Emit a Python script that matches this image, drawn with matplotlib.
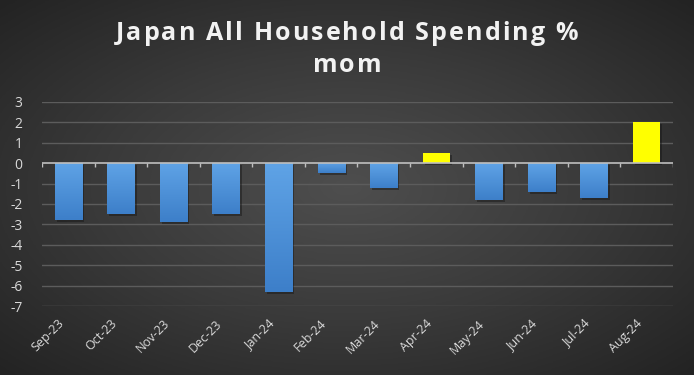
import numpy as np
import matplotlib
matplotlib.use("Agg")
import matplotlib.pyplot as plt
from matplotlib import transforms
from matplotlib.colors import LinearSegmentedColormap

categories = ["Sep-23", "Oct-23", "Nov-23", "Dec-23", "Jan-24", "Feb-24",
              "Mar-24", "Apr-24", "May-24", "Jun-24", "Jul-24", "Aug-24"]
values = [-2.8, -2.5, -2.9, -2.5, -6.3, -0.5, -1.2, 0.5, -1.8, -1.4, -1.7, 2.0]
yticks = [3, 2, 1, 0, -1, -2, -3, -4, -5, -6, -7]
title_lines = ["Japan All Household Spending %", "mom"]

plt.rcParams['font.family'] = ['Open Sans', 'DejaVu Sans']

W, H = 694, 375
fig = plt.figure(figsize=(W / 100, H / 100), dpi=100)

# radial background
bg = fig.add_axes([0, 0, 1, 1], zorder=-10)
yy, xx = np.mgrid[0:1:300j, 0:1:600j]
r = np.sqrt(((xx - 0.5) / 0.75) ** 2 + ((yy - 0.5) / 0.75) ** 2)
r = np.clip(r / 0.95, 0, 1)
bgcmap = LinearSegmentedColormap.from_list("bg", ["#4e4e4e", "#3a3a3a", "#232323"])
bg.imshow(r, cmap=bgcmap, aspect='auto', extent=[0, 1, 0, 1], origin='lower')
bg.axis('off')

ax = fig.add_axes([42 / W, 1 - 306 / H, (673 - 42) / W, (306 - 102) / H])
ax.patch.set_alpha(0)
n = len(categories)
x = np.arange(n)

for yv in yticks:
    if yv != 0:
        ax.axhline(yv, color="#5c5c5c", lw=1.0, zorder=1)

width = 0.52
bluecmap = LinearSegmentedColormap.from_list("bl", ["#3d7fc9", "#5fa3e6"])
shadow_tr = transforms.offset_copy(ax.transData, fig=fig, x=2, y=-2, units='dots')
for xi, v in zip(x, values):
    ax.bar(xi, v, width, color="#151515", alpha=0.45, transform=shadow_tr, zorder=2)
    if v >= 0:
        ax.bar(xi, v, width, color="#ffff00", zorder=3)
    else:
        b = ax.bar(xi, v, width, color="none", zorder=3)[0]
        grad = np.linspace(0, 1, 100).reshape(-1, 1)
        im = ax.imshow(grad, cmap=bluecmap, aspect='auto', origin='lower',
                       extent=[xi - width / 2, xi + width / 2, v, 0], zorder=3)
        im.set_clip_path(b)

ax.set_xlim(-0.5, n - 0.5)
ax.set_ylim(-7, 3)

# zero axis with tick marks
ax.axhline(0, color="#bfbfbf", lw=1.2, zorder=4)
ax.vlines(np.arange(n + 1) - 0.5, -0.18, 0, color="#bfbfbf", lw=1.0, zorder=4)

for s in ax.spines.values():
    s.set_visible(False)
ax.set_yticks(yticks)
ax.set_yticklabels([str(t) for t in yticks], color="#d9d9d9", fontsize=10)
ax.tick_params(axis='y', length=0, pad=14)
ax.set_xticks(x)
ax.set_xticklabels(categories, rotation=45, ha='right', rotation_mode='anchor',
                   color="#d9d9d9", fontsize=9)
ax.tick_params(axis='x', length=0, pad=8)
for lbl in ax.get_xticklabels():
    lbl.set_transform(lbl.get_transform() + transforms.ScaledTranslation(-11 / 100, 0, fig.dpi_scale_trans))

# title with letter spacing (uses advance widths)
FAM = ['Open Sans', 'DejaVu Sans']
def text_w(s, size):
    r = fig.canvas.get_renderer()
    t = fig.text(0, 0, s, fontsize=size, fontweight='bold', family=FAM)
    w = t.get_window_extent(renderer=r).width
    t.remove()
    return w

def spaced_text(s, yc, size, spacing_px):
    base = text_w("HH", size)
    adv = [text_w("H" + ch + "H", size) - base for ch in s]
    total = sum(adv) + spacing_px * (len(s) - 1)
    xpos = W / 2 - total / 2
    for ch, a in zip(s, adv):
        fig.text(xpos / W, yc, ch, fontsize=size, fontweight='bold', color="#f2f2f2",
                 ha='left', va='center', family=FAM)
        xpos += a + spacing_px

spaced_text(title_lines[0], 1 - 33 / H, 18, 2.1)
spaced_text(title_lines[1], 1 - 65 / H, 18, 2.1)

fig.savefig("out.png", dpi=100, facecolor="#2a2a2a")
